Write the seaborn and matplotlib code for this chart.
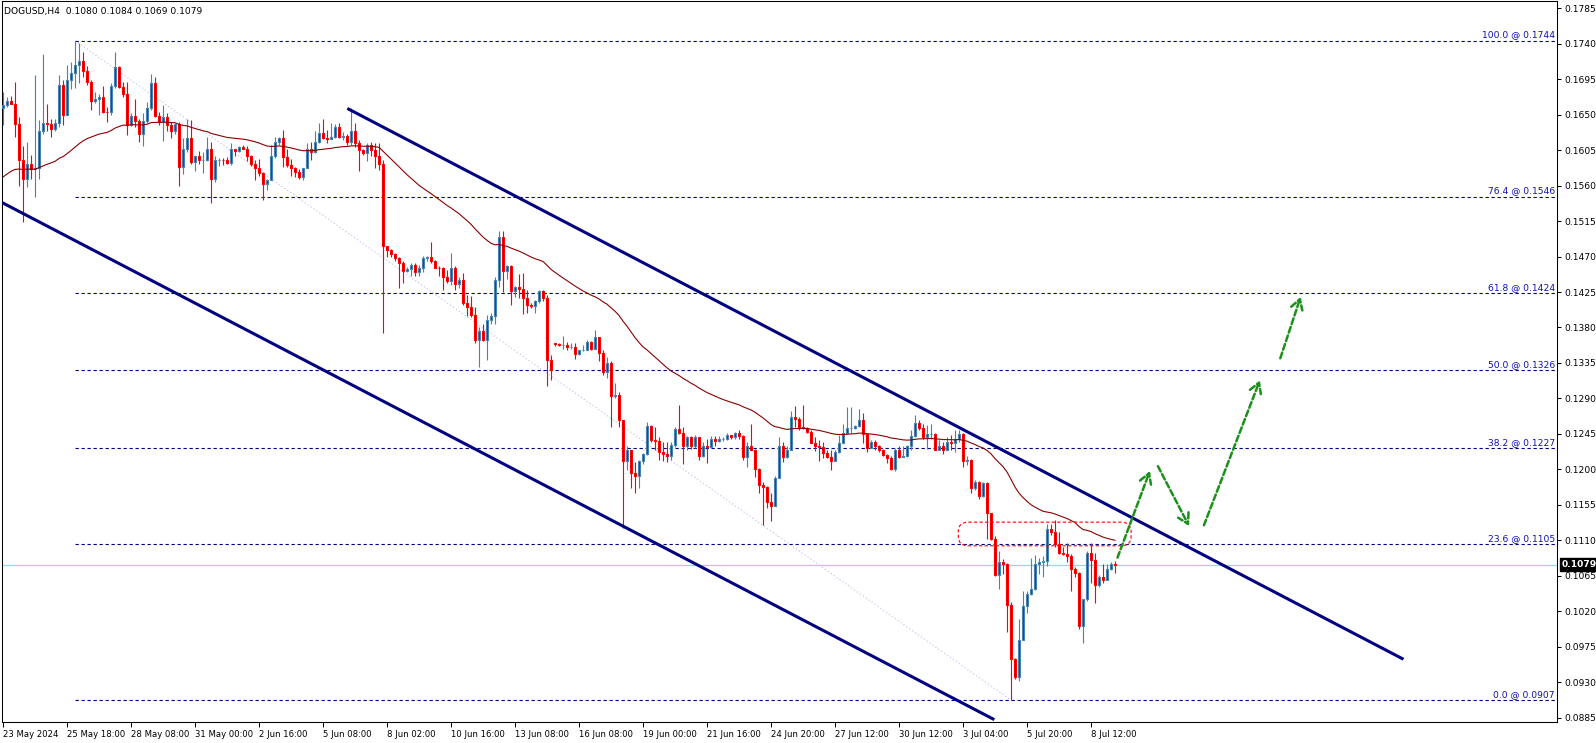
import numpy as np
import pandas as pd
import matplotlib
matplotlib.use("Agg")
import matplotlib.pyplot as plt
import matplotlib.transforms as mtransforms
from matplotlib.patches import FancyBboxPatch
import seaborn as sns

# ---------------- data (DOGUSD H4) ----------------
first_open = 0.1659
open_gaps = {138: 0.1360}

closes = [
    .1662, .1667, .1664, .1638, .1592, .1569, .1588, .1581, .1582, .1629,
    .1640, .1638, .1632, .1639, .1688, .1650, .1694, .1703, .1713, .1718,
    .1705, .1691, .1668, .1670, .1673, .1654, .1653, .1686, .1711, .1685,
    .1676, .1637, .1648, .1642, .1626, .1642, .1658, .1690, .1648, .1641,
    .1647, .1637, .1629, .1638, .1584, .1606, .1620, .1590, .1597, .1593,
    .1593, .1607, .1568, .1593, .1593, .1592, .1589, .1606, .1604, .1609,
    .1607, .1597, .1588, .1583, .1576, .1562, .1567, .1597, .1616, .1620,
    .1596, .1586, .1582, .1577, .1571, .1582, .1607, .1603, .1615, .1627,
    .1620, .1619, .1622, .1634, .1622, .1623, .1615, .1629, .1614, .1605,
    .1601, .1612, .1605, .1597, .1588, .1483, .1478, .1473, .1468, .1462,
    .1452, .1454, .1459, .1451, .1455, .1468, .1469, .1465, .1456, .1455,
    .1444, .1439, .1455, .1435, .1440, .1411, .1406, .1396, .1364, .1375,
    .1364, .1390, .1394, .1440, .1495, .1452, .1458, .1426, .1432, .1429,
    .1417, .1409, .1407, .1413, .1426, .1417, .1339, .1326, .1359, .1358,
    .1358, .1355, .1355, .1346, .1351, .1352, .1362, .1353, .1368, .1348,
    .1324, .1335, .1293, .1294, .1262, .1211, .1225, .1195, .1191, .1210,
    .1220, .1255, .1237, .1236, .1222, .1220, .1217, .1231, .1251, .1246,
    .1229, .1241, .1230, .1241, .1217, .1229, .1228, .1239, .1236, .1239,
    .1239, .1244, .1241, .1246, .1242, .1216, .1230, .1225, .1200, .1180,
    .1177, .1159, .1153, .1189, .1230, .1216, .1225, .1267, .1264, .1254,
    .1252, .1248, .1234, .1230, .1228, .1221, .1216, .1211, .1222, .1234,
    .1246, .1252, .1252, .1255, .1263, .1245, .1227, .1235, .1229, .1224,
    .1218, .1215, .1201, .1225, .1216, .1217, .1229, .1242, .1259, .1252,
    .1241, .1245, .1245, .1225, .1230, .1225, .1235, .1233, .1238, .1245,
    .1210, .1212, .1176, .1184, .1166, .1183, .1145, .1112, .1066, .1082,
    .1080, .1028, .0959, .0937, .0984, .1027, .1042, .1048, .1080, .1082,
    .1084, .1124, .1121, .1105, .1094, .1093, .1090, .1074, .1069, .1001,
    .1035, .1094, .1085, .1053, .1064, .1060, .1074, .1080, .1079,
]

highs = [
    .1679, .1673, .1674, .1691, .1647, .1610, .1616, .1599, .1700, .1643,
    .1727, .1664, .1645, .1645, .1700, .1694, .1713, .1717, .1744, .1741,
    .1729, .1712, .1694, .1679, .1676, .1686, .1660, .1690, .1730, .1712,
    .1692, .1692, .1652, .1670, .1645, .1652, .1666, .1702, .1698, .1654,
    .1662, .1652, .1641, .1640, .1641, .1621, .1644, .1643, .1598, .1604,
    .1603, .1622, .1616, .1597, .1595, .1595, .1596, .1614, .1607, .1610,
    .1612, .1610, .1599, .1593, .1594, .1577, .1569, .1612, .1622, .1622,
    .1630, .1606, .1594, .1584, .1581, .1583, .1614, .1615, .1629, .1639,
    .1644, .1631, .1639, .1638, .1639, .1628, .1626, .1658, .1639, .1618,
    .1606, .1614, .1616, .1614, .1614, .1592, .1483, .1480, .1475, .1470,
    .1464, .1457, .1462, .1462, .1459, .1471, .1471, .1488, .1466, .1458,
    .1457, .1453, .1475, .1458, .1444, .1449, .1421, .1420, .1406, .1381,
    .1385, .1396, .1398, .1444, .1502, .1502, .1459, .1459, .1433, .1448,
    .1449, .1427, .1411, .1415, .1428, .1428, .1421, .1345, .1360, .1360,
    .1369, .1362, .1360, .1360, .1352, .1358, .1364, .1363, .1377, .1368,
    .1352, .1343, .1337, .1310, .1298, .1263, .1229, .1225, .1209, .1212,
    .1221, .1260, .1256, .1254, .1241, .1235, .1235, .1235, .1254, .1282,
    .1254, .1242, .1242, .1244, .1241, .1235, .1238, .1242, .1242, .1242,
    .1241, .1246, .1244, .1247, .1250, .1244, .1235, .1258, .1226, .1202,
    .1184, .1179, .1170, .1191, .1241, .1235, .1229, .1274, .1280, .1266,
    .1282, .1254, .1250, .1241, .1237, .1235, .1225, .1224, .1225, .1244,
    .1258, .1279, .1279, .1256, .1276, .1272, .1246, .1237, .1237, .1231,
    .1226, .1219, .1217, .1227, .1229, .1229, .1231, .1250, .1269, .1263,
    .1258, .1256, .1258, .1246, .1237, .1235, .1241, .1243, .1250, .1250,
    .1246, .1217, .1213, .1186, .1185, .1184, .1184, .1145, .1115, .1096,
    .1086, .1081, .1032, .0961, .1010, .1046, .1046, .1087, .1091, .1087,
    .1090, .1131, .1131, .1136, .1121, .1102, .1106, .1093, .1076, .1070,
    .1036, .1096, .1106, .1094, .1066, .1080, .1080, .1083, .1084,
]

lows = [
    .1637, .1660, .1663, .1622, .1559, .1514, .1558, .1569, .1546, .1569,
    .1626, .1629, .1622, .1629, .1635, .1637, .1650, .1682, .1684, .1690,
    .1698, .1688, .1656, .1665, .1650, .1652, .1641, .1650, .1684, .1684,
    .1673, .1624, .1636, .1635, .1615, .1610, .1639, .1656, .1647, .1637,
    .1617, .1629, .1620, .1626, .1559, .1575, .1603, .1588, .1579, .1588,
    .1576, .1591, .1538, .1565, .1585, .1586, .1588, .1586, .1597, .1603,
    .1606, .1591, .1585, .1567, .1572, .1542, .1555, .1567, .1595, .1612,
    .1584, .1584, .1572, .1571, .1568, .1567, .1582, .1593, .1601, .1614,
    .1619, .1614, .1619, .1620, .1620, .1618, .1611, .1611, .1609, .1578,
    .1599, .1591, .1597, .1582, .1580, .1373, .1470, .1469, .1464, .1430,
    .1437, .1451, .1445, .1445, .1445, .1451, .1465, .1462, .1455, .1445,
    .1427, .1436, .1434, .1427, .1430, .1409, .1394, .1393, .1360, .1330,
    .1363, .1339, .1385, .1384, .1432, .1425, .1442, .1408, .1419, .1417,
    .1397, .1398, .1405, .1399, .1411, .1413, .1306, .1313, .1357, .1357,
    .1353, .1352, .1353, .1340, .1345, .1350, .1351, .1352, .1353, .1337,
    .1320, .1316, .1254, .1291, .1254, .1125, .1199, .1176, .1170, .1176,
    .1207, .1218, .1235, .1225, .1212, .1211, .1209, .1212, .1228, .1245,
    .1207, .1225, .1226, .1227, .1212, .1216, .1208, .1227, .1230, .1235,
    .1236, .1237, .1239, .1239, .1239, .1212, .1203, .1224, .1190, .1170,
    .1129, .1151, .1134, .1153, .1189, .1209, .1215, .1224, .1254, .1250,
    .1251, .1246, .1233, .1223, .1211, .1214, .1215, .1199, .1211, .1221,
    .1233, .1245, .1246, .1251, .1254, .1233, .1222, .1227, .1224, .1222,
    .1217, .1208, .1199, .1198, .1214, .1216, .1216, .1224, .1241, .1250,
    .1238, .1226, .1239, .1224, .1224, .1220, .1224, .1224, .1222, .1235,
    .1203, .1206, .1170, .1174, .1163, .1165, .1111, .1110, .1065, .1048,
    .1067, .0994, .0907, .0934, .0932, .0983, .1018, .1041, .1047, .1067,
    .1064, .1077, .1117, .1102, .1093, .1091, .1082, .1045, .1064, .0998,
    .0980, .1033, .1056, .1031, .1051, .1056, .1060, .1072, .1069,
]

ma_period = 50
ma_seed = 0.1571

x_labels = ["23 May 2024", "25 May 18:00", "28 May 08:00", "31 May 00:00",
            "2 Jun 16:00", "5 Jun 08:00", "8 Jun 02:00", "10 Jun 16:00",
            "13 Jun 08:00", "16 Jun 08:00", "19 Jun 00:00", "21 Jun 16:00",
            "24 Jun 20:00", "27 Jun 12:00", "30 Jun 12:00", "3 Jul 04:00",
            "5 Jul 20:00", "8 Jul 12:00"]
bars_per_label = 16

fib_pcts = [100.0, 76.4, 61.8, 50.0, 38.2, 23.6, 0.0]
fib_prices = [0.1744, 0.1546, 0.1424, 0.1326, 0.1227, 0.1105, 0.0907]
fib_from_bar, fib_to_bar = 18, 252

y_ticks = [0.1785, 0.1740, 0.1695, 0.1650, 0.1605, 0.1560, 0.1515, 0.1470,
           0.1425, 0.1380, 0.1335, 0.1290, 0.1245, 0.1200, 0.1155, 0.1110,
           0.1065, 0.1020, 0.0975, 0.0930, 0.0885]

last_price = 0.1079
title_text = "DOGUSD,H4  0.1080 0.1084 0.1069 0.1079"

# channel (bar index, price)
upper_channel = ([86.05, 350.1], [0.1658, 0.0959])
lower_channel = ([-1.0, 247.8], [0.15405, 0.08824])

# rounded resistance zone
zone_bars = (238.8, 282.0)
zone_prices = (0.1103, 0.1133)

# projected path arrows (start -> end)
arrows = [((278.6, 0.1088), (286.7, 0.1198)),
          ((288.7, 0.1204), (296.5, 0.1128)),
          ((300.2, 0.1129), (314.2, 0.1313)),
          ((319.3, 0.1341), (324.4, 0.1419))]

# ---------------- styling ----------------
BULL = "#4682b4"
BEAR = "#ff0000"
BULL_FILL = "#2b4257"
BEAR_FILL = "#5a0000"
NAVY = "#000080"
FS = 6.6
FS_X = 6.1

sns.set_theme(style="white")
plt.rcParams['font.family'] = ['DejaVu Sans']
plt.rcParams['axes.linewidth'] = 0.75

W, H = 1596, 743
fig = plt.figure(figsize=(W / 100, H / 100), dpi=100)
ax = fig.add_axes([2 / W, 21 / H, 1555 / W, 721 / H])
ax.set_facecolor("white")
ax.set_xlim(-0.275, 388.475)
ax.set_ylim(0.08794, 0.17943)

n = len(closes)
idx = np.arange(n)
opens = [first_open] + closes[:-1]
for k, v in open_gaps.items():
    opens[k] = v

ema = [ma_seed]
alpha = 2.0 / (ma_period + 1)
for cval in closes[1:]:
    ema.append(ema[-1] + alpha * (cval - ema[-1]))

df = pd.DataFrame({"bar": idx, "open": opens, "high": highs,
                   "low": lows, "close": closes, "ma": ema})

o = df["open"].to_numpy()
c = df["close"].to_numpy()
bull = c >= o
edge_cols = np.where(bull, BULL, BEAR)
fill_cols = np.where(bull, BULL_FILL, BEAR_FILL)

# current price line
ax.axhline(last_price, color="#96d9de", lw=0.9, zorder=1.5)

# fib diagonal
ax.plot([fib_from_bar, fib_to_bar], [fib_prices[0], fib_prices[-1]],
        color="#c6c6ee", lw=0.8, linestyle=(0, (1.2, 2.0)), zorder=1)

# fib levels
trans = mtransforms.blended_transform_factory(ax.transAxes, ax.transData)
x_end = ax.get_xlim()[1]
for pct, price in zip(fib_pcts, fib_prices):
    ax.plot([fib_from_bar, x_end], [price, price], color=NAVY, lw=0.8,
            linestyle=(0, (3.0, 2.4)), zorder=2)
    ax.annotate(f"{pct:.1f} @ {price:.4f}", xy=(1, price), xycoords=trans,
                xytext=(-1.5, 0.8), textcoords="offset points",
                ha="right", va="bottom", fontsize=FS, color="#1010b0", zorder=8)

# candles
ax.vlines(df["bar"], df["low"], df["high"], colors=edge_cols, linewidth=0.8, zorder=3)
ax.bar(df["bar"], np.abs(c - o), bottom=np.minimum(o, c), width=0.52,
       color=fill_cols, edgecolor=edge_cols, linewidth=0.8, zorder=4)

# moving average
sns.lineplot(data=df, x="bar", y="ma", color="#8b0000", linewidth=0.8, ax=ax, zorder=5)

# channel lines
ax.plot(*upper_channel, color=NAVY, lw=2.2, solid_capstyle="butt", zorder=6)
ax.plot(*lower_channel, color=NAVY, lw=2.2, solid_capstyle="butt", zorder=6)

# zone rectangle (rounded in pixel space)
fig.canvas.draw()
px_bar = ax.bbox.width / (ax.get_xlim()[1] - ax.get_xlim()[0])
px_price = ax.bbox.height / (ax.get_ylim()[1] - ax.get_ylim()[0])
zone = FancyBboxPatch((zone_bars[0], zone_prices[0]),
                      zone_bars[1] - zone_bars[0], zone_prices[1] - zone_prices[0],
                      boxstyle="round,pad=0,rounding_size=2.4",
                      mutation_aspect=px_bar / px_price,
                      fill=False, edgecolor="#ff0000", lw=0.8,
                      linestyle=(0, (3.0, 2.0)), zorder=6)
ax.add_patch(zone)

# arrows
for start, end in arrows:
    ax.annotate("", xy=end, xytext=start,
                arrowprops=dict(arrowstyle="->,head_length=0.6,head_width=0.35",
                                color="#1b901b", lw=1.8, linestyle=(0, (2.4, 1.2)),
                                shrinkA=0, shrinkB=0, mutation_scale=12),
                zorder=7)

# axes
for sp in ax.spines.values():
    sp.set_visible(True)
    sp.set_color("black")
    sp.set_linewidth(0.75)
ax.grid(False)
ax.set_xlabel("")
ax.set_ylabel("")

ax.yaxis.tick_right()
ax.set_yticks(y_ticks)
ax.set_yticklabels([f"{v:.4f}" for v in y_ticks])
ax.tick_params(axis="y", right=True, left=False, direction="out", length=3,
               width=0.75, pad=2.5, labelsize=FS, colors="black")

ax.set_xticks(idx[::bars_per_label][:len(x_labels)])
ax.set_xticklabels(x_labels, ha="left")
ax.tick_params(axis="x", bottom=True, direction="out", length=3.5, width=0.75,
               pad=2, labelsize=FS_X, colors="black")

# current price label
ax.annotate(f"{last_price:.4f}", xy=(1, last_price), xycoords=trans,
            xytext=(3.5, 0), textcoords="offset points", ha="left", va="center",
            fontsize=FS, color="white", fontweight="bold",
            bbox=dict(boxstyle="square,pad=0.2", fc="black", ec="black"),
            annotation_clip=False, zorder=10)

fig.text(4 / W, 1 - 11.5 / H, title_text, ha="left", va="center",
         fontsize=FS, color="black")

fig.savefig("out.png", dpi=100)
